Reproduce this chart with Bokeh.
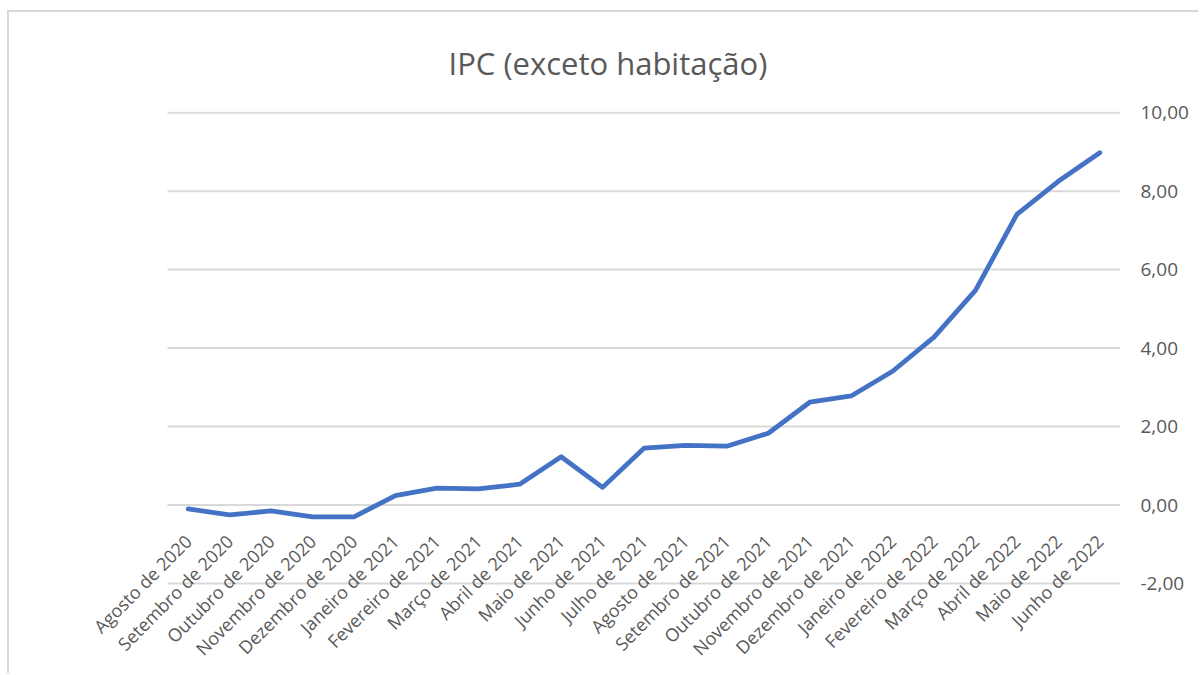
import math
from bokeh.plotting import figure
from bokeh.models import (ColumnDataSource, Range1d, LinearAxis,
                          FixedTicker, CustomJSTickFormatter)
from bokeh.embed import file_html
from bokeh.resources import INLINE

title_text = "IPC (exceto habitação)"
months = [
    "Agosto de 2020", "Setembro de 2020", "Outubro de 2020", "Novembro de 2020",
    "Dezembro de 2020", "Janeiro de 2021", "Fevereiro de 2021", "Março de 2021",
    "Abril de 2021", "Maio de 2021", "Junho de 2021", "Julho de 2021",
    "Agosto de 2021", "Setembro de 2021", "Outubro de 2021", "Novembro de 2021",
    "Dezembro de 2021", "Janeiro de 2022", "Fevereiro de 2022", "Março de 2022",
    "Abril de 2022", "Maio de 2022", "Junho de 2022",
]
ipc = [
    -0.10, -0.25, -0.15, -0.30, -0.30, 0.24, 0.43, 0.41, 0.53, 1.23, 0.45, 1.45,
    1.52, 1.50, 1.83, 2.62, 2.78, 3.41, 4.28, 5.47, 7.41, 8.25, 8.98,
]
y_ticks = [-2, 0, 2, 4, 6, 8, 10]

FONT = "Open Sans"
GRAY = "#595959"

n = len(months)
idx = list(range(n))

# Canvas geometry (canvas starts at page x=9, y=12 because of the chart border)
W, H = 1191, 663
plot_left_px, plot_right_px = 167 - 9, 1120 - 9      # plot area inside the canvas
top_border = 94
px_per_cat = (plot_right_px - plot_left_px) / n
px_per_unit = (582 - 107) / 12.0
x_lo = -0.5 - plot_left_px / px_per_cat
x_hi = n - 0.5
y_hi = 10.03
y_lo = y_hi - (H - top_border) / px_per_unit

p = figure(
    width=W, height=H,
    x_range=Range1d(x_lo, x_hi),
    y_range=Range1d(y_lo, y_hi),
    output_backend="svg", toolbar_location=None,
    y_axis_location=None,
    min_border_left=0, min_border_right=W - plot_right_px,
    min_border_top=top_border, min_border_bottom=0,
    outline_line_color=None,
    styles={"margin-left": "7px", "margin-top": "10px",
            "border-top": "2px solid #d9d9d9", "border-left": "2px solid #d9d9d9"},
)

p.title.text = title_text
p.title.text_font = FONT
p.title.text_font_size = "31px"
p.title.text_font_style = "normal"
p.title.text_color = GRAY
p.title.align = "left"
p.title.offset = 439
p.title.standoff = 55

# category axis crossing at 0, rotated labels
xaxis = p.xaxis[0]
xaxis.fixed_location = 0
xaxis.ticker = FixedTicker(ticks=idx)
xaxis.major_label_overrides = {i: m for i, m in zip(idx, months)}
xaxis.axis_line_color = None
xaxis.major_tick_line_color = None
xaxis.minor_tick_line_color = None
xaxis.major_label_orientation = math.pi / 4
xaxis.major_label_text_font = FONT
xaxis.major_label_text_font_size = "18px"
xaxis.major_label_text_color = GRAY
xaxis.major_label_standoff = 27

yaxis = LinearAxis(
    ticker=FixedTicker(ticks=y_ticks),
    formatter=CustomJSTickFormatter(code="return tick.toFixed(2).replace('.', ',');"),
    axis_line_color=None, major_tick_line_color=None, minor_tick_line_color=None,
    major_label_text_font=FONT, major_label_text_font_size="19px",
    major_label_text_color=GRAY, major_label_standoff=14,
)
p.add_layout(yaxis, "right")

p.xgrid.grid_line_color = None
p.ygrid.grid_line_color = None

# horizontal gridlines limited to the plot area
p.segment(x0=[-0.5] * len(y_ticks), x1=[n - 0.5] * len(y_ticks), y0=y_ticks, y1=y_ticks,
          line_color="#d9d9d9", line_width=2, level="underlay")

src = ColumnDataSource(dict(i=idx, ipc=ipc))
p.line("i", "ipc", source=src, line_color="#4472C4", line_width=4.8,
       line_join="round", line_cap="round")

open("out.html", "w").write(file_html(p, INLINE))
